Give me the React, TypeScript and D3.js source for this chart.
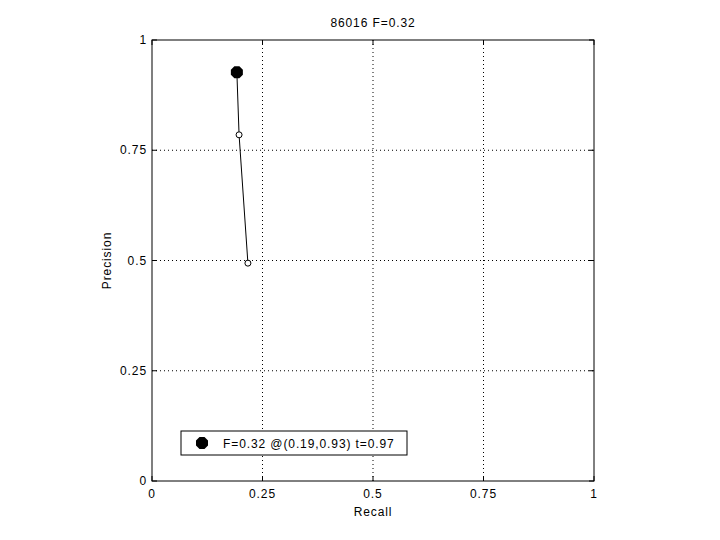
import React from "react";
import * as d3 from "d3";

const recall = [0.192, 0.197, 0.217];
const precision = [0.927, 0.785, 0.494];
const best = { r: 0.192, p: 0.927 };
const ticks = [0, 0.25, 0.5, 0.75, 1];
const tickLabels = ["0", "0.25", "0.5", "0.75", "1"];
const title = "86016 F=0.32";
const legendText = "F=0.32 @(0.19,0.93) t=0.97";

export default function App() {
  const W = 720, H = 540;
  const L = 152, R = 594, T = 40, B = 481;
  const x = d3.scaleLinear().domain([0, 1]).range([L, R]);
  const y = d3.scaleLinear().domain([0, 1]).range([B, T]);
  const pts = recall.map((r, i) => [r, precision[i]] as [number, number]);
  const line = d3.line<[number, number]>().x(d => x(d[0])).y(d => y(d[1]));
  const font = "Liberation Sans, Arial, sans-serif";
  const tl = 5;
  const oct = (cx: number, cy: number, rr: number) =>
    d3.range(8).map(k => {
      const a = Math.PI / 8 + (k * Math.PI) / 4;
      return `${cx + rr * Math.cos(a)},${cy + rr * Math.sin(a)}`;
    }).join(" ");
  return (
    <svg width={W} height={H} style={{ position: "absolute", left: 0, top: 0, background: "#fff" }} fontFamily={font} fontSize={12} letterSpacing={0.9}>
      <rect x={0} y={0} width={W} height={H} fill="#fff" />
      {ticks.slice(1, -1).map((t, i) => (
        <g key={"g" + i}>
          <line x1={x(t)} x2={x(t)} y1={T} y2={B} stroke="#000" strokeWidth={1} strokeDasharray="1,3" />
          <line x1={L} x2={R} y1={y(t)} y2={y(t)} stroke="#000" strokeWidth={1} strokeDasharray="1,3" />
        </g>
      ))}
      <rect x={L} y={T} width={R - L} height={B - T} fill="none" stroke="#000" strokeWidth={1} />
      {ticks.map((t, i) => (
        <g key={"t" + i}>
          <line x1={x(t)} x2={x(t)} y1={B} y2={B - tl} stroke="#000" />
          <line x1={x(t)} x2={x(t)} y1={T} y2={T + tl} stroke="#000" />
          <line x1={L} x2={L + tl} y1={y(t)} y2={y(t)} stroke="#000" />
          <line x1={R} x2={R - tl} y1={y(t)} y2={y(t)} stroke="#000" />
          <text x={x(t)} y={B + 17} textAnchor="middle">{tickLabels[i]}</text>
          <text x={L - 5} y={y(t) + 4} textAnchor="end">{tickLabels[i]}</text>
        </g>
      ))}
      <path d={line(pts) || ""} fill="none" stroke="#000" strokeWidth={1} />
      {pts.slice(1).map((p, i) => (
        <circle key={"c" + i} cx={x(p[0])} cy={y(p[1])} r={3} fill="#fff" stroke="#000" strokeWidth={1} />
      ))}
      <polygon points={oct(x(best.r), y(best.p), 6.5)} fill="#000" />
      <text x={(L + R) / 2} y={27} textAnchor="middle">{title}</text>
      <text x={(L + R) / 2} y={516} textAnchor="middle">Recall</text>
      <text transform={`translate(111,${(T + B) / 2}) rotate(-90)`} textAnchor="middle">Precision</text>
      <rect x={181} y={431} width={226} height={24} fill="#fff" stroke="#000" />
      <polygon points={oct(202, 443, 6.5)} fill="#000" />
      <text x={223} y={447.5}>{legendText}</text>
    </svg>
  );
}
